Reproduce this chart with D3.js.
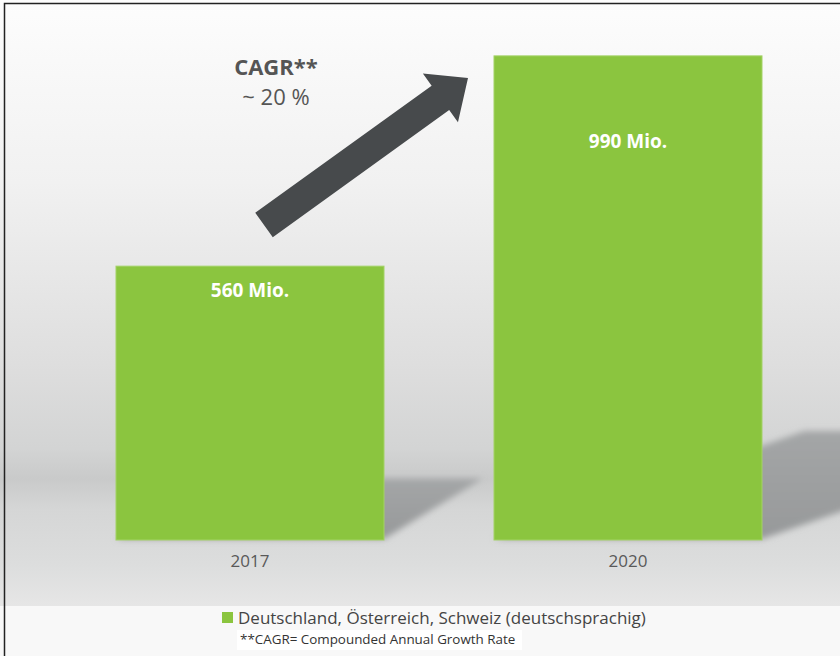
<!DOCTYPE html>
<html>
<head>
<meta charset="utf-8">
<script src="https://cdnjs.cloudflare.com/ajax/libs/d3/7.8.5/d3.min.js"></script>
<style>
  html, body { margin: 0; padding: 0; background: #fff; }
  svg { display: block; font-family: "Open Sans", "Noto Sans", sans-serif; }
</style>
</head>
<body>
<div id="chart"></div>
<script>
const years = ["2017", "2020"];
const values = [560, 990];
const valueLabels = ["560 Mio.", "990 Mio."];
const seriesName = "Deutschland, Österreich, Schweiz (deutschsprachig)";
const footnote = "**CAGR= Compounded Annual Growth Rate";
const cagrTitle = "CAGR**";
const cagrValue = "~ 20 %";

// label drop below bar top, and shadow skew per bar (layout only)
const labelDrop = [31, 92];
const shadowSkew = [1.6, 2.85];

const width = 840, height = 656;
const baseY = 540;

const svg = d3.select("#chart")
  .append("svg")
  .attr("width", width)
  .attr("height", height);

const defs = svg.append("defs");

const bg = defs.append("linearGradient")
  .attr("id", "bg").attr("x1", 0).attr("y1", 0).attr("x2", 0).attr("y2", 1);
[[0, "#fdfdfd"], [0.3, "#f1f1f1"], [0.6, "#dedede"], [0.74, "#d3d4d4"],
 [0.79, "#c9caca"], [0.84, "#d5d6d6"], [0.93, "#dcdddd"], [1, "#e6e6e6"]]
  .forEach(s => bg.append("stop").attr("offset", s[0]).attr("stop-color", s[1]));

const shade = defs.append("linearGradient")
  .attr("id", "shade").attr("x1", 0).attr("y1", 0).attr("x2", 0).attr("y2", 1);
shade.append("stop").attr("offset", 0).attr("stop-color", "#a4a6a7");
shade.append("stop").attr("offset", 1).attr("stop-color", "#97999a");

defs.append("filter").attr("id", "blur")
  .attr("x", "-20%").attr("y", "-20%").attr("width", "140%").attr("height", "140%")
  .append("feGaussianBlur").attr("stdDeviation", 3);

// background
svg.append("rect").attr("width", width).attr("height", 606).attr("fill", "url(#bg)");
svg.append("rect").attr("y", 606).attr("width", width).attr("height", height - 606).attr("fill", "#f8f8f8");

const x = d3.scaleBand()
  .domain(years)
  .range([61, 817])
  .paddingInner(0.291)
  .paddingOuter(0.1455);

const y = d3.scaleLinear()
  .domain([0, 1000])
  .range([baseY, 51]);

const data = years.map((yr, i) => ({ year: yr, value: values[i], label: valueLabels[i], i }));

// shadows
svg.append("g")
  .selectAll("polygon")
  .data(data)
  .enter()
  .append("polygon")
  .attr("points", d => {
    const x0 = x(d.year), x1 = x0 + x.bandwidth();
    const sh = 0.225 * (baseY - y(d.value));
    const dx = sh * shadowSkew[d.i];
    return [[x0, baseY - 1], [x1, baseY - 1], [x1 + dx, baseY - sh], [x0 + dx, baseY - sh]].join(" ");
  })
  .attr("fill", "url(#shade)")
  .attr("filter", "url(#blur)");

// bars
svg.append("g")
  .selectAll("rect")
  .data(data)
  .enter()
  .append("rect")
  .attr("x", d => x(d.year))
  .attr("y", d => y(d.value))
  .attr("width", x.bandwidth())
  .attr("height", d => baseY - y(d.value))
  .attr("fill", "#8bc53f")
  .attr("stroke", "#a3d266")
  .attr("stroke-width", 1);

// value labels
svg.append("g")
  .selectAll("text")
  .data(data)
  .enter()
  .append("text")
  .attr("x", d => x(d.year) + x.bandwidth() / 2)
  .attr("y", d => y(d.value) + labelDrop[d.i])
  .attr("text-anchor", "middle")
  .style("font-size", "19px")
  .style("font-weight", "bold")
  .style("fill", "#ffffff")
  .text(d => d.label);

// x axis (labels only)
const xAxis = svg.append("g")
  .attr("transform", `translate(0, ${baseY})`)
  .call(d3.axisBottom(x).tickSize(0).tickPadding(15));
xAxis.select(".domain").remove();
xAxis.selectAll("text")
  .style("font-family", "\"Open Sans\", sans-serif")
  .style("font-size", "17px")
  .style("fill", "#595959");

// growth arrow
const tail = [264, 225], tip = [468, 78];
const len = Math.hypot(tip[0] - tail[0], tip[1] - tail[1]);
const u = [(tip[0] - tail[0]) / len, (tip[1] - tail[1]) / len];
const n = [-u[1], u[0]];
const shaft = 15, head = 30, headLen = 34;
const pt = (p, a, b) => [p[0] + u[0] * a + n[0] * b, p[1] + u[1] * a + n[1] * b];
const arrowPts = [
  pt(tail, 0, -shaft), pt(tip, -headLen, -shaft), pt(tip, -headLen, -head), tip,
  pt(tip, -headLen, head), pt(tip, -headLen, shaft), pt(tail, 0, shaft)
];
svg.append("polygon")
  .attr("points", arrowPts.map(p => p.join(",")).join(" "))
  .attr("fill", "#474a4c");

svg.append("text")
  .attr("x", 276).attr("y", 75)
  .attr("text-anchor", "middle")
  .style("font-size", "22px").style("font-weight", "bold").style("fill", "#555")
  .text(cagrTitle);
svg.append("text")
  .attr("x", 276).attr("y", 105)
  .attr("text-anchor", "middle")
  .style("font-size", "22px").style("fill", "#555")
  .text(cagrValue);

// legend
svg.append("rect")
  .attr("x", 222).attr("y", 612).attr("width", 11).attr("height", 11)
  .attr("fill", "#8bc53f");
svg.append("text")
  .attr("x", 238).attr("y", 624)
  .style("font-size", "17px").style("fill", "#444")
  .text(seriesName);
svg.append("rect")
  .attr("x", 237).attr("y", 630).attr("width", 285).attr("height", 20)
  .attr("fill", "#ffffff");
svg.append("text")
  .attr("x", 240).attr("y", 644)
  .style("font-size", "13.4px").style("fill", "#333")
  .text(footnote);

// frame
svg.append("path")
  .attr("d", `M4.5,${height} V3.5 H${width}`)
  .attr("fill", "none")
  .attr("stroke", "#222")
  .attr("stroke-width", 1.5);
</script>
</body>
</html>
